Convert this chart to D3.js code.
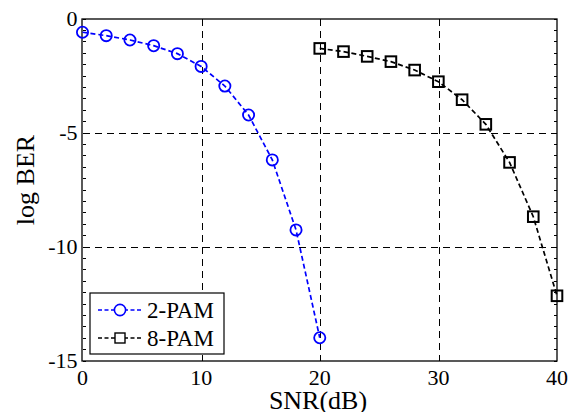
<!DOCTYPE html>
<meta charset="utf-8">
<style>
body { margin: 0; background: #fff; }
text { font-family: "Liberation Serif", "Times New Roman", serif; fill: #000; }
</style>
<body>
<script src="https://d3js.org/d3.v7.min.js"></script>
<script>

// data
var snr2 = [0, 2, 4, 6, 8, 10, 12, 14, 16, 18, 20];
var ber2 = [-0.58, -0.73, -0.92, -1.17, -1.52, -2.08, -2.94, -4.21, -6.18, -9.25, -13.98];
var snr8 = [20, 22, 24, 26, 28, 30, 32, 34, 36, 38, 40];
var ber8 = [-1.29, -1.43, -1.64, -1.87, -2.24, -2.75, -3.54, -4.62, -6.29, -8.67, -12.14];
var xTicks = [0, 10, 20, 30, 40];
var yTicks = [0, -5, -10, -15];
var seriesNames = ["2-PAM", "8-PAM"];

var margin = {top: 19, right: 13, bottom: 51, left: 82.5},
    width = 570 - margin.left - margin.right,
    height = 412 - margin.top - margin.bottom;

var x = d3.scaleLinear().domain([0, 40]).range([0, width]);
var y = d3.scaleLinear().domain([-15, 0]).range([height, 0]);

var svg = d3.select("body").append("svg")
    .attr("width", 570)
    .attr("height", 412)
  .append("g")
    .attr("transform", "translate(" + margin.left + "," + margin.top + ")");

// grid
svg.selectAll(".vgrid").data(xTicks.slice(1, -1)).enter().append("line")
    .attr("x1", d => Math.round(x(d)) + 0.5).attr("x2", d => Math.round(x(d)) + 0.5)
    .attr("y1", 0).attr("y2", height)
    .attr("stroke", "#000").attr("stroke-width", 1)
    .attr("shape-rendering", "crispEdges")
    .attr("stroke-dasharray", "7,5");
svg.selectAll(".hgrid").data(yTicks.slice(1, -1)).enter().append("line")
    .attr("x1", 0).attr("x2", width)
    .attr("y1", d => Math.round(y(d)) + 0.5).attr("y2", d => Math.round(y(d)) + 0.5)
    .attr("stroke", "#000").attr("stroke-width", 1)
    .attr("shape-rendering", "crispEdges")
    .attr("stroke-dasharray", "7,5");

// minor y ticks, left and right, pointing in
var minor = d3.range(-15, 0.01, 0.5);
svg.selectAll(".mtl").data(minor).enter().append("line")
    .attr("x1", 0).attr("x2", 3)
    .attr("y1", d => y(d)).attr("y2", d => y(d))
    .attr("stroke", "#000").attr("stroke-width", 1)
    .attr("shape-rendering", "crispEdges");
svg.selectAll(".mtr").data(minor).enter().append("line")
    .attr("x1", width).attr("x2", width - 3)
    .attr("y1", d => y(d)).attr("y2", d => y(d))
    .attr("stroke", "#000").attr("stroke-width", 1)
    .attr("shape-rendering", "crispEdges");

// frame
svg.append("rect")
    .attr("x", -0.5).attr("y", 0)
    .attr("width", width + 0.5).attr("height", height)
    .attr("fill", "none").attr("stroke", "#000").attr("stroke-width", 1.3);

// tick labels
svg.selectAll(".xl").data(xTicks).enter().append("text")
    .attr("x", d => x(d)).attr("y", height + 24)
    .attr("text-anchor", "middle")
    .style("font-size", "22px")
    .text(d => d);
svg.selectAll(".yl").data(yTicks).enter().append("text")
    .attr("x", -5).attr("y", d => y(d) + 7)
    .attr("text-anchor", "end")
    .style("font-size", "22px")
    .text(d => d);

// axis titles
svg.append("text")
    .attr("x", 318 - margin.left).attr("y", height + 48)
    .attr("text-anchor", "middle")
    .style("font-size", "26px")
    .text("SNR(dB)");
svg.append("text")
    .attr("transform", "translate(" + (34 - margin.left) + "," + (180 - margin.top) + ") rotate(-90)")
    .attr("text-anchor", "middle")
    .style("font-size", "26px")
    .text("log BER");

var line = d3.line().x(d => x(d[0])).y(d => y(d[1]));
var pts2 = d3.zip(snr2, ber2);
var pts8 = d3.zip(snr8, ber8);

// 2-PAM
svg.append("path").datum(pts2)
    .attr("d", line).attr("fill", "none")
    .attr("stroke", "#0000ff").attr("stroke-width", 1.7)
    .attr("stroke-dasharray", "5,3");
svg.selectAll(".c2").data(pts2).enter().append("circle")
    .attr("cx", d => x(d[0])).attr("cy", d => y(d[1]))
    .attr("r", 5.6).attr("fill", "none")
    .attr("stroke", "#0000ff").attr("stroke-width", 1.8);

// 8-PAM
svg.append("path").datum(pts8)
    .attr("d", line).attr("fill", "none")
    .attr("stroke", "#000").attr("stroke-width", 1.7)
    .attr("stroke-dasharray", "5,3");
svg.selectAll(".s8").data(pts8).enter().append("rect")
    .attr("x", d => x(d[0]) - 5.3).attr("y", d => y(d[1]) - 5.3)
    .attr("width", 10.6).attr("height", 10.6).attr("fill", "none")
    .attr("stroke", "#000").attr("stroke-width", 2);

// legend
var lg = svg.append("g").attr("transform", "translate(" + (90 - margin.left) + "," + (293 - margin.top) + ")");
lg.append("rect").attr("width", 134).attr("height", 61)
    .attr("fill", "#fff").attr("stroke", "#000").attr("stroke-width", 1.2);
seriesNames.forEach(function(name, i) {
    var cy = 17 + i * 28;
    var col = i === 0 ? "#0000ff" : "#000";
    lg.append("line").attr("x1", 8).attr("x2", 51).attr("y1", cy).attr("y2", cy)
        .attr("stroke", col).attr("stroke-width", 1.3).attr("stroke-dasharray", "4,2.5");
    if (i === 0) {
        lg.append("circle").attr("cx", 30).attr("cy", cy).attr("r", 5.6)
            .attr("fill", "#fff").attr("stroke", col).attr("stroke-width", 1.6);
    } else {
        lg.append("rect").attr("x", 25).attr("y", cy - 5).attr("width", 10).attr("height", 10)
            .attr("fill", "#fff").attr("stroke", col).attr("stroke-width", 1.4);
    }
    lg.append("text").attr("x", 57).attr("y", cy + 7.5)
        .style("font-size", "23px").text(name);
});

</script>
</body>
